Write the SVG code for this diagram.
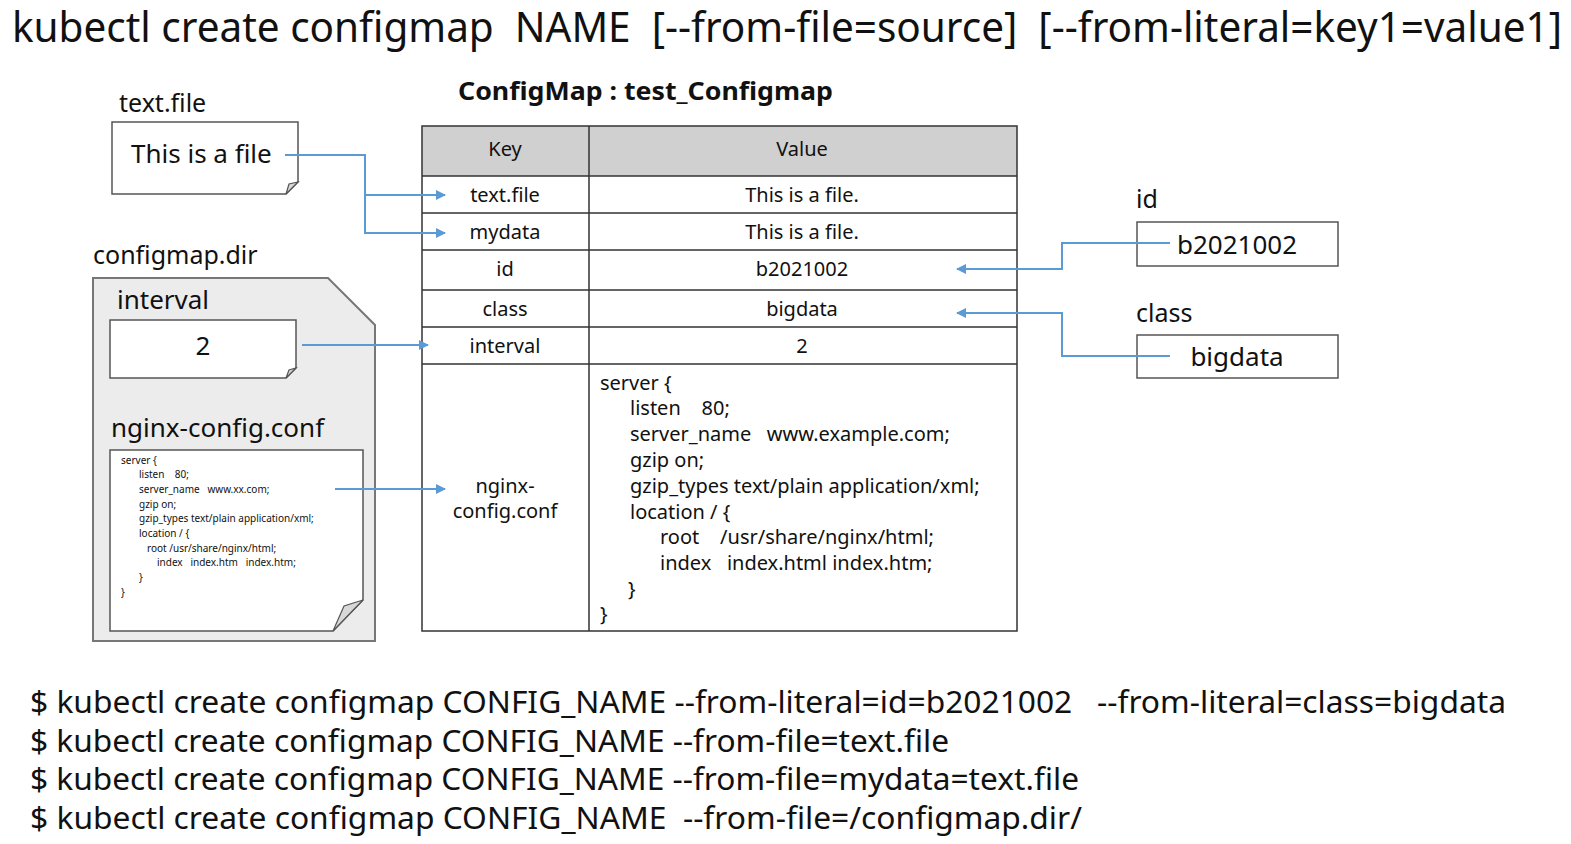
<svg xmlns="http://www.w3.org/2000/svg" width="1571" height="844" viewBox="0 0 1571 844" xml:space="preserve">
<defs>
<style>
text{font-family:"Noto Sans","Open Sans","Liberation Sans",sans-serif;fill:#111;white-space:pre}
.t20{font-size:20px}
.c{text-anchor:middle}
.box{fill:#fff;stroke:#555;stroke-width:1.5}
.grid{fill:none;stroke:#333;stroke-width:1.5}
.conn{fill:none;stroke:#5b9bd5;stroke-width:2}
.fold{fill:#d8d8d8;stroke:#555;stroke-width:1.2}
.small{font-size:10px}
</style>
<marker id="arr" viewBox="0 0 10 10" refX="9" refY="5" markerWidth="5" markerHeight="5" orient="auto">
<path d="M0,0 L10,5 L0,10 z" fill="#5b9bd5"/>
</marker>
</defs>
<rect width="1571" height="844" fill="#fff"/>

<text id="title" transform="translate(12,42) scale(1,1.15)" x="0" y="0" font-size="36" textLength="1550" lengthAdjust="spacingAndGlyphs">kubectl create configmap  NAME  [--from-file=source]  [--from-literal=key1=value1]</text>

<g id="textfile">
<text x="119" y="112" font-size="25">text.file</text>
<path class="box" d="M112,122 H298 V182 L286,194 H112 Z"/>
<path class="fold" d="M286,194 L289,184 L298,182 Z"/>
<text x="131" y="163" font-size="26">This is a file</text>
</g>

<g id="configmapdir">
<text x="93" y="264" font-size="25">configmap.dir</text>
<path d="M93,278 H328 L375,325 V641 H93 Z" fill="#ececec" stroke="#777" stroke-width="2"/>
<text x="117" y="309" font-size="26">interval</text>
<path class="box" d="M110,320 H296 V368 L286,378 H110 Z"/>
<path class="fold" d="M286,378 L289,370 L296,368 Z"/>
<text x="203" y="355" font-size="26" class="c">2</text>
<text x="111" y="437" font-size="26">nginx-config.conf</text>
<path class="box" d="M110,450 H363 V600 L333,631 H110 Z"/>
<path class="fold" d="M333,631 L344,606 L363,600 Z"/>
<text class="small" x="121" y="464">server {</text>
<text class="small" x="139" y="478">listen    80;</text>
<text class="small" x="139" y="493">server_name   www.xx.com;</text>
<text class="small" x="139" y="508">gzip on;</text>
<text class="small" x="139" y="522">gzip_types text/plain application/xml;</text>
<text class="small" x="139" y="537">location / {</text>
<text class="small" x="147" y="552">root /usr/share/nginx/html;</text>
<text class="small" x="157" y="566">index   index.htm   index.htm;</text>
<text class="small" x="139" y="581">}</text>
<text class="small" x="121" y="596">}</text>
</g>

<g id="configmap">
<text x="458" y="100" font-size="25" font-weight="bold" textLength="375" lengthAdjust="spacingAndGlyphs">ConfigMap : test_Configmap</text>
<rect x="422" y="126" width="595" height="50" fill="#d0d0d0"/>
<rect class="grid" x="422" y="126" width="595" height="505"/>
<path class="grid" d="M589,126 V631 M422,176 H1017 M422,213 H1017 M422,250 H1017 M422,290 H1017 M422,327 H1017 M422,364 H1017"/>
<text class="t20 c" x="505" y="156" font-size="22">Key</text>
<text class="t20 c" x="802" y="156" font-size="22">Value</text>
<text class="t20 c" x="505" y="202">text.file</text>
<text class="t20 c" x="802" y="202">This is a file.</text>
<text class="t20 c" x="505" y="239">mydata</text>
<text class="t20 c" x="802" y="239">This is a file.</text>
<text class="t20 c" x="505" y="276">id</text>
<text class="t20 c" x="802" y="276">b2021002</text>
<text class="t20 c" x="505" y="316">class</text>
<text class="t20 c" x="802" y="316">bigdata</text>
<text class="t20 c" x="505" y="353">interval</text>
<text class="t20 c" x="802" y="353">2</text>
<text class="t20 c" x="505" y="493">nginx-</text>
<text class="t20 c" x="505" y="518">config.conf</text>
<text class="t20" x="600" y="390">server {</text>
<text class="t20" x="630" y="415">listen    80;</text>
<text class="t20" x="630" y="441">server_name   www.example.com;</text>
<text class="t20" x="630" y="467">gzip on;</text>
<text class="t20" x="630" y="493">gzip_types text/plain application/xml;</text>
<text class="t20" x="630" y="519">location / {</text>
<text class="t20" x="660" y="544">root    /usr/share/nginx/html;</text>
<text class="t20" x="660" y="570">index   index.html index.htm;</text>
<text class="t20" x="628" y="596">}</text>
<text class="t20" x="600" y="621">}</text>
</g>

<g id="id">
<text x="1136" y="208" font-size="25">id</text>
<rect class="box" x="1137" y="222" width="201" height="44"/>
<text x="1237" y="254" font-size="26" class="c">b2021002</text>
</g>

<g id="class">
<text x="1136" y="322" font-size="25">class</text>
<rect class="box" x="1137" y="335" width="201" height="43"/>
<text x="1237" y="366" font-size="26" class="c">bigdata</text>
</g>

<g id="connectors">
<path class="conn" d="M285,155 H365 V195 H445" marker-end="url(#arr)"/>
<path class="conn" d="M365,195 V233 H445" marker-end="url(#arr)"/>
<path class="conn" d="M302,345 H428" marker-end="url(#arr)"/>
<path class="conn" d="M335,489 H445" marker-end="url(#arr)"/>
<path class="conn" d="M1170,243 H1062 V269 H957" marker-end="url(#arr)"/>
<path class="conn" d="M1170,356 H1062 V313 H957" marker-end="url(#arr)"/>
</g>

<g id="commands" font-size="30">
<text x="30" y="713" textLength="1476" lengthAdjust="spacingAndGlyphs">$ kubectl create configmap CONFIG_NAME --from-literal=id=b2021002   --from-literal=class=bigdata</text>
<text x="30" y="752" textLength="919" lengthAdjust="spacingAndGlyphs">$ kubectl create configmap CONFIG_NAME --from-file=text.file</text>
<text x="30" y="790" textLength="1049" lengthAdjust="spacingAndGlyphs">$ kubectl create configmap CONFIG_NAME --from-file=mydata=text.file</text>
<text x="30" y="829" textLength="1052" lengthAdjust="spacingAndGlyphs">$ kubectl create configmap CONFIG_NAME  --from-file=/configmap.dir/</text>
</g>
</svg>
